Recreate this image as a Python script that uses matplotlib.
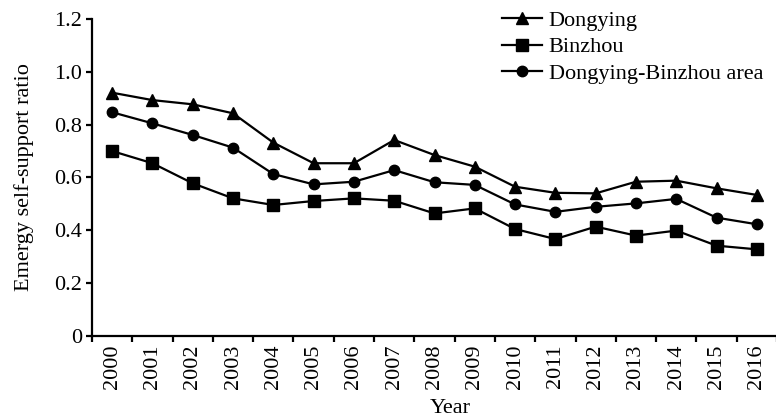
import matplotlib
matplotlib.use("Agg")
import matplotlib.pyplot as plt
import numpy as np

years = [str(y) for y in range(2000, 2017)]
dongying = [0.921, 0.893, 0.877, 0.843, 0.732, 0.654, 0.654, 0.742, 0.685, 0.641,
            0.565, 0.542, 0.540, 0.584, 0.588, 0.559, 0.534]
binzhou = [0.700, 0.654, 0.578, 0.521, 0.496, 0.511, 0.521, 0.512, 0.464, 0.483,
           0.405, 0.367, 0.414, 0.380, 0.399, 0.342, 0.328]
area = [0.847, 0.805, 0.761, 0.713, 0.613, 0.574, 0.584, 0.628, 0.582, 0.572,
        0.498, 0.470, 0.489, 0.502, 0.519, 0.448, 0.423]
yticks = [0, 0.2, 0.4, 0.6, 0.8, 1.0, 1.2]
ytick_labels = ["0", "0.2", "0.4", "0.6", "0.8", "1.0", "1.2"]

plt.rcParams['font.family'] = 'serif'
plt.rcParams['font.serif'] = ['Liberation Serif']
FS = 16

fig = plt.figure(figsize=(7.76, 4.19), dpi=100)
ax = fig.add_axes([92/776, 83/419, 685/776, 317/419])

x = np.arange(len(years))
lw = 1.6
ax.plot(x, dongying, color='black', lw=lw, marker='^', ms=8.5, label='Dongying')
ax.plot(x, binzhou, color='black', lw=lw, marker='s', ms=8, label='Binzhou')
ax.plot(x, area, color='black', lw=lw, marker='o', ms=7.5, label='Dongying-Binzhou area')

ax.set_xlim(-0.5, len(years) - 0.5)
ax.set_ylim(0, 1.2)

ax.spines['top'].set_visible(False)
ax.spines['right'].set_visible(False)
for s in ['left', 'bottom']:
    ax.spines[s].set_linewidth(1.6)

ax.set_yticks(yticks)
ax.set_yticklabels(ytick_labels, fontsize=FS)
ax.tick_params(axis='y', direction='out', length=4, width=1.6, pad=3)

ax.set_xticks(x)
ax.set_xticklabels(years, rotation=90, fontsize=FS)
ax.set_xticks(np.arange(-0.5, len(years)), minor=True)
ax.tick_params(axis='x', which='major', length=0, pad=6)
ax.tick_params(axis='x', which='minor', direction='out', length=4, width=1.6)

ax.set_ylabel('Emergy self-support ratio', fontsize=FS)
ax.yaxis.set_label_coords(-0.085, 0.5)
ax.set_xlabel('Year', fontsize=FS)
ax.xaxis.set_label_coords(0.523, -0.2)

fig.legend(loc='upper left', bbox_to_anchor=(502/776, 1 - 10/419), frameon=False,
           fontsize=FS, handlelength=1.8, handletextpad=0.3, labelspacing=0.28,
           borderpad=0, borderaxespad=0)

fig.savefig('out.png', dpi=100)
